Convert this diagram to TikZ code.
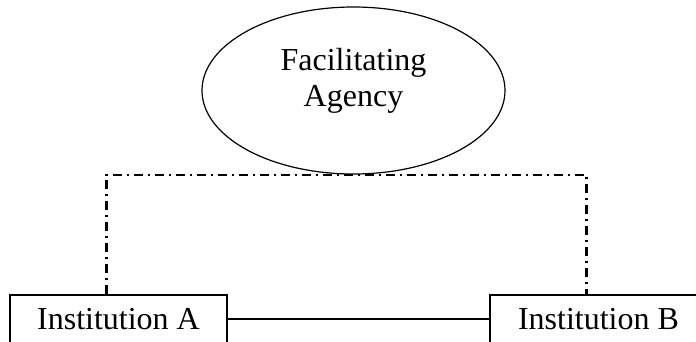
\documentclass[tikz,border=0pt]{standalone}
\usepackage{fontspec}
\setmainfont{Liberation Serif}
\usepackage{tikz}
\usetikzlibrary{shapes.geometric}

\begin{document}
\begin{tikzpicture}[x=1pt, y=-1pt,
    agency/.style={draw, ellipse, line width=1.2pt, inner sep=0pt,
      minimum width=303pt, minimum height=167pt, align=center,
      font=\fontsize{32}{36}\selectfont, text depth=27pt},
    inst/.style={draw, rectangle, line width=1.2pt, inner sep=0pt,
      minimum width=217pt, minimum height=48pt,
      font=\fontsize{32}{36}\selectfont},
    link/.style={line width=2.2pt,
      dash pattern=on 9pt off 5pt on 2pt off 5pt}]
  \useasboundingbox (0,0) rectangle (696,341);
  \clip (0,0) rectangle (696,341);
  \node[agency] (fa) at (353.5,90.5) {Facilitating\\Agency};
  \node[inst] (instA) at (118.5,319) {Institution A};
  \node[inst] (instB) at (598.5,319) {Institution B};
  \draw[link] ([xshift=-12pt]instA.north) |- (fa.south) -| ([xshift=-12pt]instB.north);
  \draw[line width=1.2pt] (instA.east) -- (instB.west);
\end{tikzpicture}
\end{document}
